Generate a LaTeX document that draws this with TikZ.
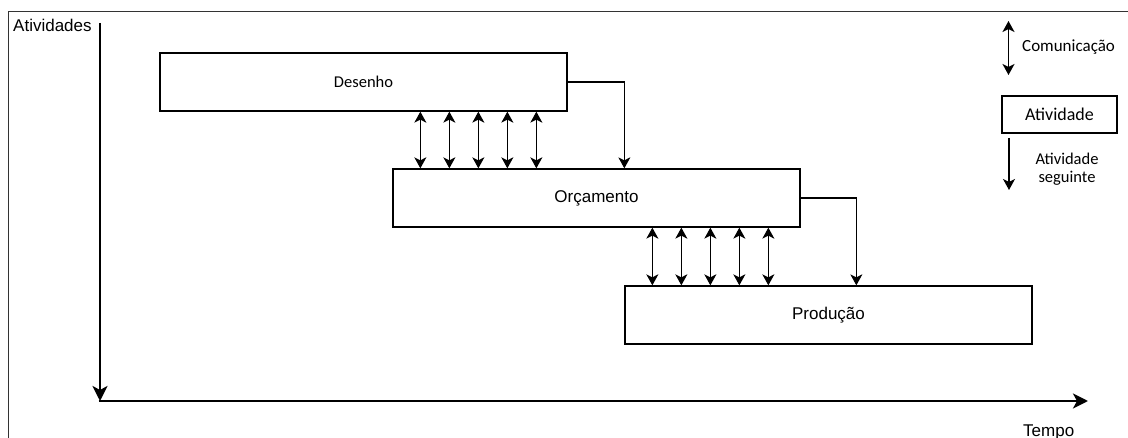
\documentclass[tikz,border=0pt]{standalone}
\usepackage{fontspec}
\setmainfont{Liberation Sans}
\newfontfamily\califont{Carlito}
\usetikzlibrary{arrows.meta}
\begin{document}
\begin{tikzpicture}[x=1pt,y=-1pt,
  frameline/.style={line width=1pt,draw=black!80},
  axisline/.style={line width=2.8pt,-{Stealth[length=15pt,width=15pt,inset=4pt]}},
  actbox/.style={draw,line width=1.3pt,minimum width=407pt,minimum height=58pt,inner sep=0pt,font=\fontsize{17}{18}\selectfont},
  commarrow/.style={line width=1.4pt,{Stealth[length=11pt,width=12pt,inset=3pt]}-{Stealth[length=11pt,width=12pt,inset=3pt]}},
  nextarrow/.style={line width=1.3pt,-{Stealth[length=11pt,width=12pt,inset=3pt]}},
  lbl/.style={inner sep=0pt,font=\fontsize{17}{18}\selectfont},
  callbl/.style={inner sep=0pt,font=\califont\fontsize{17}{18}\selectfont}]
\useasboundingbox (0,0) rectangle (1128,438);

% outer frame (left and top edges)
\draw[frameline] (8,438) -- (8,12) -- (1128,12);

% axes
\coordinate (ytop) at (100,23);
\coordinate (orig) at (100,401);
\coordinate (xend) at (1088,401);
\draw[axisline] (ytop) -- (orig);
\draw[axisline] ([xshift=-1.4pt]orig) -- (xend);
\node[lbl,anchor=base west] (ylab) at (13,32) {Atividades};
\node[lbl,anchor=base west] (xlab) at (1023,436.5) {Tempo};

% activities
\node[actbox,font=\califont\fontsize{16.5}{18}\selectfont] (des) at (363.5,82) {Desenho};
\node[actbox] (orc) at (596.5,198) {Orçamento};
\node[actbox] (pro) at (828.5,315) {Produção};

% communication between activities
\foreach \d in {0,29,58,87,116}{
  \draw[commarrow] ([xshift=261pt+\d pt]des.south west) -- ([xshift=28pt+\d pt]orc.north west);
  \draw[commarrow] ([xshift=260pt+\d pt]orc.south west) -- ([xshift=28pt+\d pt]pro.north west);
}

% hand-over to the following activity
\draw[nextarrow] (des.east) -| ([xshift=232pt]orc.north west);
\draw[nextarrow] (orc.east) -| ([xshift=232pt]pro.north west);

% legend
\coordinate (ca) at (1008.5,21);
\coordinate (cb) at (1008.5,75);
\draw[commarrow] (ca) -- (cb);
\node[callbl,anchor=base west] (clab) at (1022,52) {Comunicação};
\node[draw,line width=1.3pt,minimum width=115pt,minimum height=37pt,inner sep=0pt,
  font=\califont\fontsize{18}{20}\selectfont] (lbox) at (1059.5,114.5) {Atividade};
\coordinate (na) at (1009,138);
\coordinate (nb) at (1009,190);
\draw[nextarrow] (na) -- (nb);
\node[callbl,align=center,font=\califont\fontsize{16.5}{18}\selectfont,anchor=base] (nlab) at (1067,182.5) {Atividade\\seguinte};
\end{tikzpicture}
\end{document}
